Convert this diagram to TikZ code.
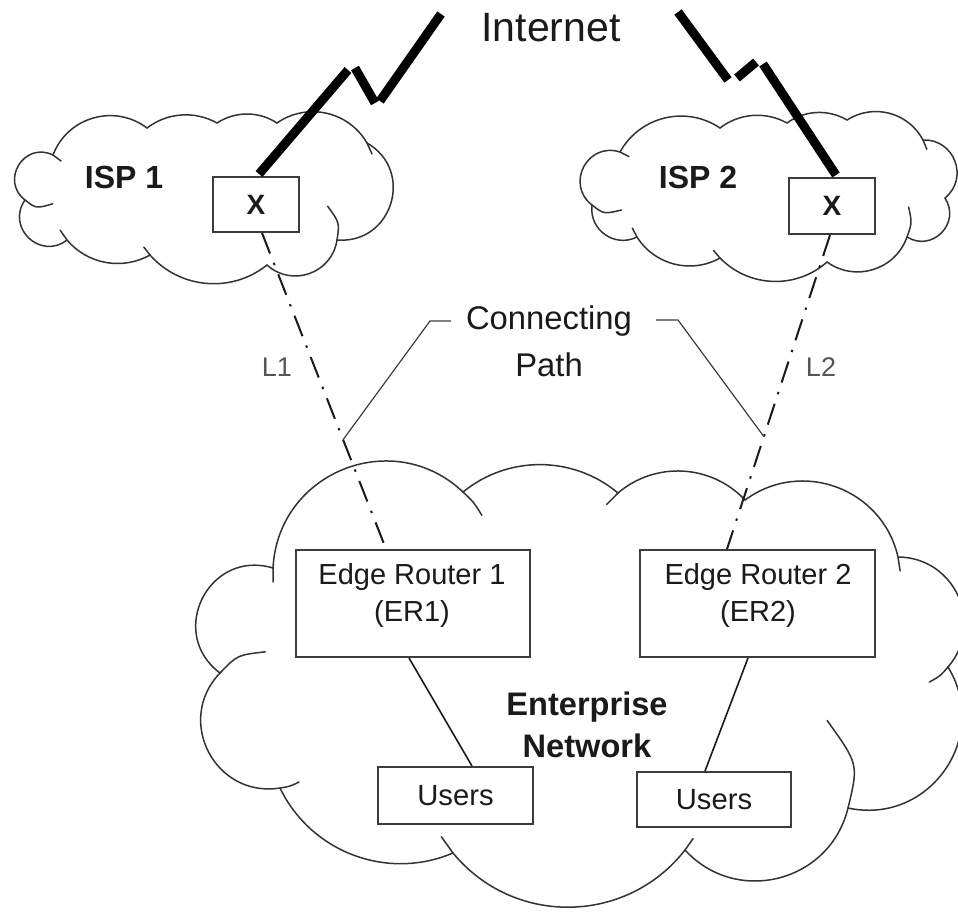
\documentclass[tikz,border=0pt]{standalone}
\usepackage{fontspec}
\setmainfont{Liberation Sans}
\usetikzlibrary{calc}

\definecolor{ink}{HTML}{1A1A1A}
\definecolor{cloudink}{HTML}{333333}
\definecolor{boxink}{HTML}{3C3C3C}
\definecolor{labelgray}{HTML}{555555}

% One scallop of a cloud outline: a circular-looking arc from (#1,#2) to (#3,#4)
% bulging to the left of the direction of travel (as seen on the page);
% #5 = sagitta / chord, #6 and #7 = length of the inward tail at start / end.
\newcommand\cloudbump[7]{%
  \pgfmathsetmacro\cbL{veclen(#3-#1,#4-#2)}%
  \pgfmathsetmacro\cbdx{(#3-#1)/\cbL}%
  \pgfmathsetmacro\cbdy{(#4-#2)/\cbL}%
  \pgfmathsetmacro\cbth{2*atan(2*#5)}%
  \pgfmathsetmacro\cbR{\cbL/(2*sin(\cbth))}%
  \pgfmathsetmacro\cbk{4/3*tan(\cbth/2)*\cbR}%
  \pgfmathsetmacro\cbc{cos(\cbth)}%
  \pgfmathsetmacro\cbs{sin(\cbth)}%
  \pgfmathsetmacro\cbax{\cbc*\cbdx+\cbs*\cbdy}%
  \pgfmathsetmacro\cbay{\cbc*\cbdy-\cbs*\cbdx}%
  \pgfmathsetmacro\cbbx{\cbc*\cbdx-\cbs*\cbdy}%
  \pgfmathsetmacro\cbby{\cbc*\cbdy+\cbs*\cbdx}%
  \draw[cloudline] (#1,#2) .. controls ({#1+\cbk*\cbax},{#2+\cbk*\cbay})
     and ({#3-\cbk*\cbbx},{#4-\cbk*\cbby}) .. (#3,#4);
  \ifdim #6pt>0pt
    \pgfmathsetmacro\cbg{#6/\cbR*28.6479}%
    \pgfmathsetmacro\cbhx{-\cbax*cos(\cbg)-\cbay*sin(\cbg)}%
    \pgfmathsetmacro\cbhy{\cbax*sin(\cbg)-\cbay*cos(\cbg)}%
    \draw[cloudline] (#1,#2) .. controls ({#1-0.5*#6*\cbax},{#2-0.5*#6*\cbay})
       .. ({#1+#6*\cbhx},{#2+#6*\cbhy});
  \fi
  \ifdim #7pt>0pt
    \pgfmathsetmacro\cbg{#7/\cbR*28.6479}%
    \pgfmathsetmacro\cbhx{\cbbx*cos(\cbg)-\cbby*sin(\cbg)}%
    \pgfmathsetmacro\cbhy{\cbbx*sin(\cbg)+\cbby*cos(\cbg)}%
    \draw[cloudline] (#3,#4) .. controls ({#3+0.5*#7*\cbbx},{#4+0.5*#7*\cbby})
       .. ({#3+#7*\cbhx},{#4+#7*\cbhy});
  \fi
}

\begin{document}
\begin{tikzpicture}[x=0.5pt,y=-0.5pt,
  cloudline/.style={draw=cloudink,line width=0.75pt,line cap=round},
  boxnode/.style={draw=boxink,line width=1pt,fill=white,inner sep=0pt,text=ink},
  txt/.style={anchor=base,inner sep=0pt,text=ink},
  inetfont/.style={font=\fontsize{20.5}{24}\selectfont},
  ispfont/.style={font=\bfseries\fontsize{16}{19}\selectfont},
  xfont/.style={font=\bfseries\fontsize{14}{17}\selectfont},
  pathfont/.style={font=\fontsize{16.4}{19}\selectfont},
  linkfont/.style={font=\fontsize{13.5}{16}\selectfont,text=labelgray},
  routerfont/.style={font=\fontsize{14.5}{17}\selectfont},
  usersfont/.style={font=\fontsize{14.6}{17}\selectfont},
  netfont/.style={font=\bfseries\fontsize{16.3}{19}\selectfont},
  uplink/.style={draw=black,line width=4.5pt,line cap=butt},
  dashdot/.style={draw=ink,line width=1pt,dash pattern=on 11pt off 5pt on 1.2pt off 5pt},
  leader/.style={draw=boxink,line width=0.6pt},
  wire/.style={draw=ink,line width=0.8pt}]

\useasboundingbox (0,0) rectangle (958,912);
\clip (0,0) rectangle (958,912);
\fill[white] (0,0) rectangle (958,912);

% ---- clouds ----
% ISP 1
\foreach \ex/\ey/\b/\hs/\he [remember=\ex as \sx (initially 25), remember=\ey as \sy (initially 200)] in
  {53/155/0.45/28/10, 147/128/0.25/0/0, 217/123/0.15/0/0, 277/123/0.15/0/0,
   367/143/0.22/0/12, 337/240/0.40/0/0, 267/265/0.30/35/0, 150/255/0.20/0/10,
   67/240/0.18/0/12, 25/200/0.43/0/0}
  {\cloudbump{\sx}{\sy}{\ex}{\ey}{\b}{\hs}{\he}}
% ISP 2
\foreach \ex/\ey/\b/\hs/\he [remember=\ex as \sx (initially 592), remember=\ey as \sy (initially 205)] in
  {620/152/0.42/30/10, 720/128/0.22/0/0, 787/123/0.15/0/0, 847/120/0.15/0/0,
   923/140/0.22/0/10, 945/198/0.36/0/0, 907/237/0.40/0/0, 827/262/0.25/30/0,
   720/258/0.20/0/10, 637/237/0.20/0/10, 592/205/0.30/0/0}
  {\cloudbump{\sx}{\sy}{\ex}{\ey}{\b}{\hs}{\he}}
% enterprise network
\foreach \ex/\ey/\b/\hs/\he [remember=\ex as \sx (initially 273), remember=\ey as \sy (initially 568)] in
  {463/492/0.32/14/30, 618/493/0.18/0/0, 745/500/0.20/16/0, 898/557/0.27/0/14,
   948/667/0.32/0/24, 848/808/0.33/0/0, 685/850/0.30/90/0, 453/853/0.24/14/20,
   280/788/0.20/0/0, 220/673/0.36/20/50, 273/568/0.42/0/0}
  {\cloudbump{\sx}{\sy}{\ex}{\ey}{\b}{\hs}{\he}}

% ---- boxes ----
\node[boxnode,xfont,minimum width=43pt,minimum height=27.5pt] (x1) at (256,204.5) {X};
\node[boxnode,xfont,minimum width=43pt,minimum height=28pt] (x2) at (832,206) {X};
\node[boxnode,minimum width=117pt,minimum height=53.5pt] (er1) at (413,603.5) {};
\node[boxnode,minimum width=117.5pt,minimum height=53.5pt] (er2) at (757.5,603.5) {};
\node[boxnode,usersfont,minimum width=77.5pt,minimum height=28.5pt] (u1) at (455.5,795.5) {Users};
\node[boxnode,usersfont,minimum width=77pt,minimum height=27.5pt] (u2) at (714,799.5) {Users};

% ---- labels ----
\node[txt,inetfont] (inet) at (551,41) {Internet};
\node[txt,ispfont] (isp1) at (124,188) {ISP 1};
\node[txt,ispfont] (isp2) at (698,188) {ISP 2};
\node[txt,pathfont] (conn) at (549,329) {Connecting};
\node[txt,pathfont] (cpath) at (549,376) {Path};
\node[txt,linkfont] (lab1) at (277,376) {L1};
\node[txt,linkfont] (lab2) at (821,376) {L2};
\node[txt,routerfont] (er1a) at (412,584) {Edge Router 1};
\node[txt,routerfont] (er1b) at (412,621) {(ER1)};
\node[txt,routerfont] (er2a) at (758,584) {Edge Router 2};
\node[txt,routerfont] (er2b) at (758,621) {(ER2)};
\node[txt,netfont] (ent1) at (587,715) {Enterprise};
\node[txt,netfont] (ent2) at (587,757) {Network};

% ---- links from the ISPs to the edge routers ----
\coordinate (l1s) at ($(x1.south)+(6,0)$);
\coordinate (l1e) at ($(er1.north)+(-27,0)$);
\coordinate (l2s) at ($(x2.south)+(-2,0)$);
\coordinate (l2e) at ($(er2.north)+(-30.5,0)$);
\draw[dashdot] (l1s) -- (l1e);
\draw[dashdot] (l2s) -- (l2e);

% ---- "Connecting Path" callout ----
\coordinate (cp1) at ($(l1s)!0.654!(l1e)$);
\coordinate (cp2) at ($(l2s)!0.642!(l2e)$);
\coordinate (ck1) at (430,321);
\coordinate (ct1) at (451,321);
\coordinate (ck2) at (678,320);
\coordinate (ct2) at (656,320);
\draw[leader] (ct1) -- (ck1) -- (cp1);
\draw[leader] (ct2) -- (ck2) -- (cp2);

% ---- routers to users ----
\draw[wire] ($(er1.south)+(-4,0)$) -- ($(u1.north)+(16.5,0)$);
\draw[wire] ($(er2.south)+(-9.5,0)$) -- ($(u2.north)+(-9,0)$);

% ---- Internet uplinks (zig-zag) ----
\coordinate (za1) at (348,70);
\coordinate (za2) at (355,68);
\coordinate (za3) at (375,103);
\coordinate (za4) at (380,101);
\coordinate (za5) at (441,14);
\draw[uplink] ($(x1.north)+(3,-2)$) -- (za1);
\draw[uplink] (za2) -- (za3);
\draw[uplink] (za4) -- (za5);
\coordinate (zb1) at (678,12);
\coordinate (zb2) at (728,80);
\coordinate (zb3) at (737,78);
\coordinate (zb4) at (756,62);
\coordinate (zb5) at (763,64);
\draw[uplink] (zb1) -- (zb2);
\draw[uplink] (zb3) -- (zb4);
\draw[uplink] (zb5) -- ($(x2.north)+(4,-2)$);

\end{tikzpicture}
\end{document}
